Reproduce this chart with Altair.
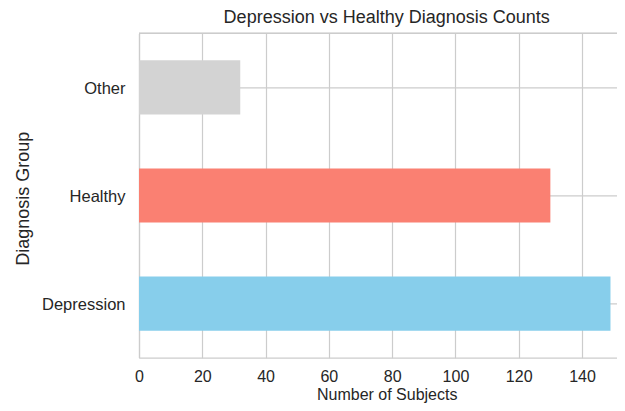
import altair as alt
import pandas as pd

groups = ["Depression", "Healthy", "Other"]
counts = [149, 130, 32]
colors = ["#87CEEB", "#FA8072", "#D3D3D3"]
tick_values = [0, 20, 40, 60, 80, 100, 120, 140]

df = pd.DataFrame({"Diagnosis Group": groups, "Number of Subjects": counts})

FONT = "Liberation Sans"
TXT = "#262626"
GRID = "#cccccc"
W, H = 478, 324.4

bars = alt.Chart(df).mark_bar().encode(
    y=alt.Y(
        "Diagnosis Group:N",
        sort=["Other", "Healthy", "Depression"],
        scale=alt.Scale(paddingInner=0.5, paddingOuter=0.25),
        axis=alt.Axis(
            title="Diagnosis Group",
            titleFont=FONT, titleFontSize=18, titleFontWeight="normal", titleColor=TXT,
            titleAngle=-90, titleAlign="center", titleBaseline="alphabetic",
            titleX=-111, titleY=165,
            labelFont=FONT, labelFontSize=16.5, labelColor=TXT, labelPadding=14,
            labelOffset=1.5,
            ticks=False, tickSize=0, bandPosition=0.5,
            grid=True, gridColor=GRID, gridWidth=1.2,
            domain=True, domainColor=GRID, domainWidth=1.2,
        ),
    ),
    x=alt.X(
        "Number of Subjects:Q",
        scale=alt.Scale(domain=[0, 151.06], nice=False, zero=True),
        axis=alt.Axis(
            title="Number of Subjects", values=tick_values,
            titleFont=FONT, titleFontSize=16, titleFontWeight="normal", titleColor=TXT,
            titleAlign="center", titleBaseline="alphabetic", titleX=247.7, titleY=41.9,
            labelFont=FONT, labelFontSize=16, labelColor=TXT, labelPadding=24.3,
            labelBaseline="alphabetic", labelFlush=False,
            ticks=False, tickSize=0,
            grid=True, gridColor=GRID, gridWidth=1.2,
            domain=True, domainColor=GRID, domainWidth=1.2,
        ),
    ),
    color=alt.Color(
        "Diagnosis Group:N",
        scale=alt.Scale(domain=groups, range=colors),
        legend=None,
    ),
)

top_spine = alt.Chart(df).mark_rule(color=GRID, strokeWidth=1.2).encode(
    x=alt.value(0), x2=alt.value(W), y=alt.value(0)
)

chart = (
    alt.layer(bars, top_spine)
    .properties(
        width=W,
        height=H,
        autosize=alt.AutoSizeParams(type="none"),
        padding={"left": 131, "top": 25.3, "right": 0, "bottom": 45.3},
        background="white",
        title=alt.TitleParams(
            "Depression vs Healthy Diagnosis Counts",
            font=FONT, fontSize=18, fontWeight="normal", color=TXT,
            offset=6, dx=8.7, anchor="middle",
        ),
    )
    .configure_view(stroke=None)
)

chart.save("out.html", embed_options={"renderer": "svg", "actions": False})
